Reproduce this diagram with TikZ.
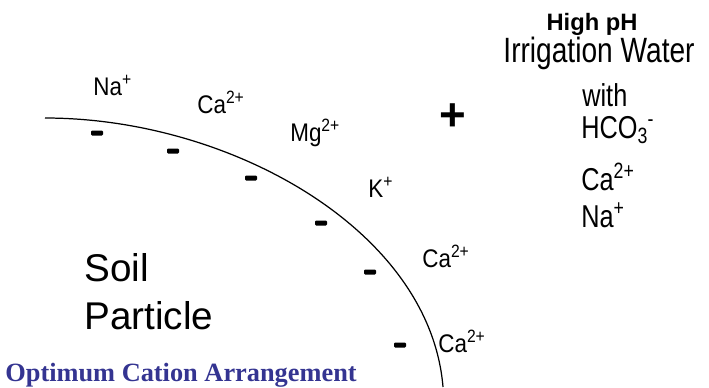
\documentclass[tikz,border=0pt]{standalone}
\usepackage{fontspec}
\setmainfont{Liberation Sans}
\newfontfamily\ionsans[FakeStretch=0.88]{Liberation Sans}
\newfontfamily\narrowsans[FakeStretch=0.8]{Liberation Sans}
\newfontfamily\captionserif{Liberation Serif}
\usetikzlibrary{positioning}
\definecolor{capblue}{RGB}{52,52,145}

\begin{document}
\begin{tikzpicture}[x=0.02cm,y=-0.02cm,
  ion/.style={anchor=base west,inner sep=0pt,font=\ionsans\fontsize{14.5}{14.5}\selectfont},
  water/.style={anchor=base west,inner sep=0pt,font=\narrowsans\fontsize{18}{18}\selectfont},
  soiltext/.style={anchor=base west,inner sep=0pt,font=\fontsize{22}{22}\selectfont},
  charge/.style={fill=black,rounded corners=0.6pt}]
\useasboundingbox (0,0) rectangle (709,387);
% particle surface
\draw[line width=0.7pt] (45,118) .. controls (230,118) and (430,230) .. (443,387);
% negative sites on the surface
\foreach \x/\y in {97/133,173/151,251/178,321/223,370/272,400/345}
  \fill[charge] (\x-6,\y-2.5) rectangle (\x+6,\y+2.5);
% adsorbed cations
\node[ion] (na) at (93,95) {Na\textsuperscript{+}};
\node[ion] (ca1) at (197,113) {Ca\textsuperscript{2+}};
\node[ion] (mg) at (290,141) {Mg\textsuperscript{2+}};
\node[ion] (k) at (368,197) {K\textsuperscript{+}};
\node[ion] (ca2) at (422,267) {Ca\textsuperscript{2+}};
\node[ion] (ca3) at (438,352) {Ca\textsuperscript{2+}};
% soil particle label
\node[soiltext] (soil) at (84,281) {Soil};
\node[soiltext] (part) at (84,329) {Particle};
% added water
\node[inner sep=0pt,font=\bfseries\fontsize{26}{26}\selectfont] (plus) at (453,117) {+};
\node[anchor=base,inner sep=0pt,font=\bfseries\fontsize{13.5}{13.5}\selectfont] (high) at (592,30) {High pH};
\node[anchor=base,inner sep=0pt,font=\narrowsans\fontsize{20}{20}\selectfont] (irr) at (599,62) {Irrigation Water};
\node[water] (with) at (582,106) {with};
\node[water] (hco) at (581,138) {HCO\rlap{\textsubscript{3}}\kern0.32em\textsuperscript{-}};
\node[water] (caw) at (581,190) {Ca\textsuperscript{2+}};
\node[water] (naw) at (581,227) {Na\textsuperscript{+}};
% caption
\node[anchor=base west,inner sep=0pt,text=capblue,font=\captionserif\bfseries\fontsize{15}{15}\selectfont]
  (cap) at (5,381) {Optimum\ Cation\ Arrangement};
\end{tikzpicture}
\end{document}
